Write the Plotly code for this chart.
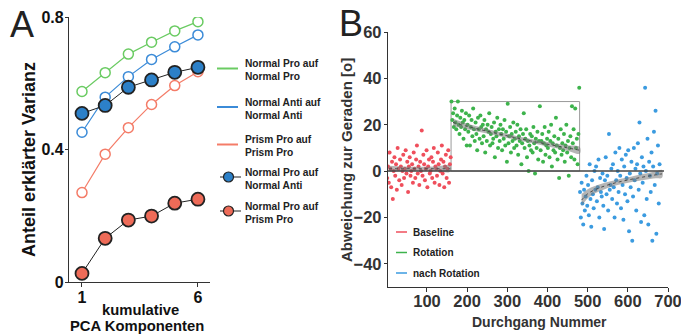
import plotly.graph_objects as go

W, H = 681, 334
def px(x): return x / W
def py(y): return 1 - y / H

FONT = "Liberation Sans, Arial, sans-serif"

# ---------------- Panel A data ----------------
komponenten = [1, 2, 3, 4, 5, 6]
normal_pro_auf_normal_pro = [0.575, 0.632, 0.688, 0.724, 0.758, 0.786]
normal_anti_auf_normal_anti = [0.452, 0.558, 0.620, 0.672, 0.710, 0.746]
prism_pro_auf_prism_pro = [0.270, 0.386, 0.466, 0.536, 0.593, 0.635]
normal_pro_auf_normal_anti = [0.509, 0.533, 0.588, 0.610, 0.633, 0.648]
normal_pro_auf_prism_pro = [0.026, 0.132, 0.187, 0.199, 0.238, 0.250]

# ---------------- Panel B data ----------------
baseline_trials = list(range(1, 160, 2))
baseline_vals = [
    -3, 2, -5, 8, 1, -7, 4, -12, 0, 6, -2, 3, -8, 10, 1, -4, 5, 2, -6, 0,
    7, -3, 1, 9, -1, 4, -9, 2, 6, -2, 0, 3, -5, 8, 1, -3, 5, 11, -1, 2,
    -6, 4, 0, 17.5, -2, 7, 3, -4, 1, 9, -7, 2, 5, -1, 0, 6, -3, 4, 10, -5,
    2, 1, -2, 8, 3, -6, 0, 5, 11, -1, 4, -7, 2, 7, -3, 1, 9, -5, 3, 6]

rotation_trials = list(range(161, 480, 2))
rotation_vals = [
    30, 22, 25, 19, 27, 21, 18, 24, 30, 20,
    16, 23, 19, 26, 21, 14, 22, 18, 25, 11,
    20, 17, 24, 11, 19, 22, 15, 27, 18, 13,
    21, 16, 9, 23, 18, 14, 24, 19, 12, 20,
    15, 22, 8, 18, 13, 20, 17, 25, 11, 16,
    19, 12, 14, 21, 6, 17, 15, 23, 10, 18,
    13, 20, 16, 9, 18, 14, 22, 11, 17, 4,
    29, 12, 15, 19, 8, 16, 13, 21, 10, 14,
    17, 11, 20, 7, 15, 13, 18, 3, 12, 16,
    25, 10, 14, 18, 6, 13, 0, 11, 16, 9,
    15, 8, 19, 12, -1, 14, 10, 17, 5, 13,
    28, 9, 13, 16, 4, 12, 19, 7, 11, 14,
    10, 17, 6, 13, 20, 2, 12, 9, 15, 8,
    23, 11, 5, 14, -3, 10, 18, 7, 12, 9,
    16, 4, 11, 20, 8, 13, -2, 10, 15, 6,
    28, 12, 18, 5, 27, 10, 14, 3, 16, 36]

nach_trials = list(range(481, 680, 2))
nach_vals = [
    -9, -20, -5, -14, -23, -8, -17, -11, -2, -15,
    -6, -19, 3, -12, -24, -4, -10, -16, 0, -8,
    2, -13, -7, 5, -20, -3, -9, -11, -1, -15,
    -25, -4, 6, -10, -2, -17, 16, -8, -6, 1,
    -12, 3, -7, -20, 8, -4, -14, 0, -9, 10,
    -2, -16, 5, -6, -21, 2, -10, 7, -3, -13,
    9, -26, -1, -7, 4, -30, -11, 10, -4, 1,
    -17, 3, 12, -8, 21, -1, -22, 6, -5, 2,
    -19, 36, 0, -12, 14, -23, 4, -2, -9, 8,
    -30, 2, 17, -6, 26, -27, -1, 11, -14, 3]

baseline_fit_x = [5, 40, 80, 120, 158]
baseline_fit_y = [1.0, 1.0, 1.0, 1.0, 1.0]
baseline_fit_err = [1.3, 1.0, 0.9, 1.0, 1.3]

rotation_fit_x = [165, 200, 250, 300, 350, 400, 450, 480]
rotation_fit_y = [21.0, 19.3, 17.2, 15.2, 13.3, 11.6, 10.0, 9.0]
rotation_fit_err = [1.6, 1.2, 1.0, 0.9, 0.9, 1.0, 1.2, 1.5]

nach_fit_x = [485, 500, 520, 550, 580, 610, 640, 670, 685]
nach_fit_y = [-12.5, -9.8, -7.9, -6.0, -4.6, -3.5, -2.5, -1.6, -1.2]
nach_fit_err = [2.6, 2.0, 1.6, 1.3, 1.2, 1.2, 1.3, 1.5, 1.7]

GREEN_L, BLUE_L, RED_L = "#6acb62", "#3b8bd8", "#f47c68"
BLUE_F, RED_F = "#2c80c8", "#ee6b58"
RED_S, GREEN_S, BLUE_S = "#ef4f5c", "#3db34c", "#3b9be0"

fig = go.Figure()

# Panel A traces
fig.add_trace(go.Scatter(x=komponenten, y=normal_pro_auf_normal_pro, mode="lines+markers",
    line=dict(color=GREEN_L, width=1.2),
    marker=dict(size=10, color="white", line=dict(color=GREEN_L, width=1.5)), xaxis="x", yaxis="y"))
fig.add_trace(go.Scatter(x=komponenten, y=normal_anti_auf_normal_anti, mode="lines+markers",
    line=dict(color=BLUE_L, width=1.2),
    marker=dict(size=10, color="white", line=dict(color=BLUE_L, width=1.5)), xaxis="x", yaxis="y"))
fig.add_trace(go.Scatter(x=komponenten, y=prism_pro_auf_prism_pro, mode="lines+markers",
    line=dict(color=RED_L, width=1.2),
    marker=dict(size=10, color="white", line=dict(color=RED_L, width=1.5)), xaxis="x", yaxis="y"))
fig.add_trace(go.Scatter(x=komponenten, y=normal_pro_auf_normal_anti, mode="lines+markers",
    line=dict(color="#222", width=1),
    marker=dict(size=13, color=BLUE_F, line=dict(color="#222", width=1.8)), xaxis="x", yaxis="y"))
fig.add_trace(go.Scatter(x=komponenten, y=normal_pro_auf_prism_pro, mode="lines+markers",
    line=dict(color="#222", width=1),
    marker=dict(size=13, color=RED_F, line=dict(color="#222", width=1.8)), xaxis="x", yaxis="y"))

# Panel B scatter
for xs, ys, c in [(baseline_trials, baseline_vals, RED_S),
                  (rotation_trials, rotation_vals, GREEN_S),
                  (nach_trials, nach_vals, BLUE_S)]:
    fig.add_trace(go.Scatter(x=xs, y=ys, mode="markers",
        marker=dict(size=4, color=c, line=dict(width=0)), xaxis="x2", yaxis="y2"))

# Fit bands
for fx, fy, fe in [(baseline_fit_x, baseline_fit_y, baseline_fit_err),
                   (rotation_fit_x, rotation_fit_y, rotation_fit_err),
                   (nach_fit_x, nach_fit_y, nach_fit_err)]:
    up = [a + b for a, b in zip(fy, fe)]
    lo = [a - b for a, b in zip(fy, fe)]
    fig.add_trace(go.Scatter(x=fx + fx[::-1], y=up + lo[::-1], mode="lines",
        line=dict(width=0, shape="spline"), fill="toself",
        fillcolor="rgba(120,120,120,0.55)", xaxis="x2", yaxis="y2"))
    fig.add_trace(go.Scatter(x=fx, y=fy, mode="lines",
        line=dict(color="#4a4a4a", width=1, dash="dot", shape="spline"),
        xaxis="x2", yaxis="y2"))

axis_common = dict(showgrid=False, zeroline=False, showline=True, linecolor="#333",
                   linewidth=1.3, ticks="outside", tickcolor="#333", tickwidth=1.3,
                   automargin=False, ticklabeloverflow="allow")

fig.update_layout(
    template="none",
    width=W, height=H, margin=dict(l=0, r=0, t=0, b=0, pad=0, autoexpand=False),
    paper_bgcolor="white", plot_bgcolor="white", showlegend=False,
    xaxis=dict(domain=[px(69), px(210)], range=[0.44, 6.52], tickvals=[1, 6],
               ticklen=4, ticklabelstandoff=-3,
               tickfont=dict(family=FONT, size=16, color="#111", weight="bold"),
               anchor="y", **axis_common),
    yaxis=dict(domain=[py(282), py(17)], range=[0, 0.8], tickvals=[0, 0.4, 0.8],
               ticktext=["0", "0.4", "0.8"], ticklen=3, ticklabelstandoff=-2,
               tickfont=dict(family=FONT, size=16, color="#111", weight="bold"),
               anchor="x", **axis_common),
    xaxis2=dict(domain=[px(388), px(668)], range=[3, 700],
                tickvals=[100, 200, 300, 400, 500, 600, 700],
                ticklen=4, ticklabelstandoff=-5,
                tickfont=dict(family=FONT, size=16.5, color="#333", weight="bold"),
                anchor="y2", **axis_common),
    yaxis2=dict(domain=[py(287), py(32)], range=[-50, 60],
                tickvals=[-40, -20, 0, 20, 40, 60], ticklen=3, ticklabelstandoff=-1,
                tickfont=dict(family=FONT, size=16.5, color="#333", weight="bold"),
                anchor="x2", **axis_common),
)

shapes = []
# rectangle + zero line in B
shapes.append(dict(type="rect", xref="x2", yref="y2", x0=160, x1=480, y0=0, y1=30,
                   line=dict(color="#9a9a9a", width=1), layer="below"))
shapes.append(dict(type="line", xref="x2", yref="y2", x0=3, x1=690, y0=0, y1=0,
                   line=dict(color="#444", width=1.5)))

annotations = []
def txt(x, y, text, size, bold=True, xanchor="left", color="#111", angle=0, family=FONT):
    annotations.append(dict(x=px(x), y=py(y), xref="paper", yref="paper", text=text,
        showarrow=False, xanchor=xanchor, yanchor="middle", align="left" if xanchor == "left" else "center",
        textangle=angle,
        font=dict(family=family, size=size, color=color, weight="bold" if bold else "normal")))

# Panel letters
txt(22, 25, "A", 36, bold=False, xanchor="center", color="#222")
txt(351, 23, "B", 36, bold=False, xanchor="center", color="#222")

# Axis titles
txt(29, 160, "Anteil erklärter Varianz", 18, xanchor="center", angle=-90)
txt(140, 309.5, "kumulative", 14.8, xanchor="center")
txt(137, 325.5, "PCA Komponenten", 14.8, xanchor="center")
txt(346, 160, "Abweichung zur Geraden [o]", 15, xanchor="center", color="#333", angle=-90)
txt(539, 322, "Durchgang Nummer", 14, xanchor="center", color="#333")

# Legend A
leg_a = [(68.5, GREEN_L, None, "Normal Pro auf<br>Normal Pro"),
         (107, BLUE_L, None, "Normal Anti auf<br>Normal Anti"),
         (144.5, RED_L, None, "Prism Pro auf<br>Prism Pro"),
         (177, "#222", BLUE_F, "Normal Pro auf<br>Normal Anti"),
         (211, "#222", RED_F, "Normal Pro auf<br>Prism Pro")]
for yc, lc, fc, label in leg_a:
    if fc is None:
        shapes.append(dict(type="line", xref="paper", yref="paper", x0=px(217), x1=px(238),
                           y0=py(yc), y1=py(yc), line=dict(color=lc, width=2)))
    else:
        shapes.append(dict(type="line", xref="paper", yref="paper", x0=px(220), x1=px(241),
                           y0=py(yc), y1=py(yc), line=dict(color=lc, width=1)))
        shapes.append(dict(type="circle", xref="paper", yref="paper", xsizemode="pixel",
                           ysizemode="pixel", xanchor=px(228.5), yanchor=py(yc),
                           x0=-5, x1=5, y0=-5, y1=5, fillcolor=fc, line=dict(color="#222", width=1.2)))
    txt(243, yc + 1.5, label, 10.2, color="#222")

# Legend B
for yc, c, label in [(232, RED_S, "Baseline"), (252.5, GREEN_S, "Rotation"), (273, BLUE_S, "nach Rotation")]:
    shapes.append(dict(type="line", xref="paper", yref="paper", x0=px(396), x1=px(407),
                       y0=py(yc), y1=py(yc), line=dict(color=c, width=1.5)))
    txt(411, yc, label, 10, color="#222")

fig.update_layout(shapes=shapes, annotations=annotations)
fig.write_html("out.html", config={"displayModeBar": False},
               post_script="document.body.style.margin='0';document.body.style.overflow='hidden';")
